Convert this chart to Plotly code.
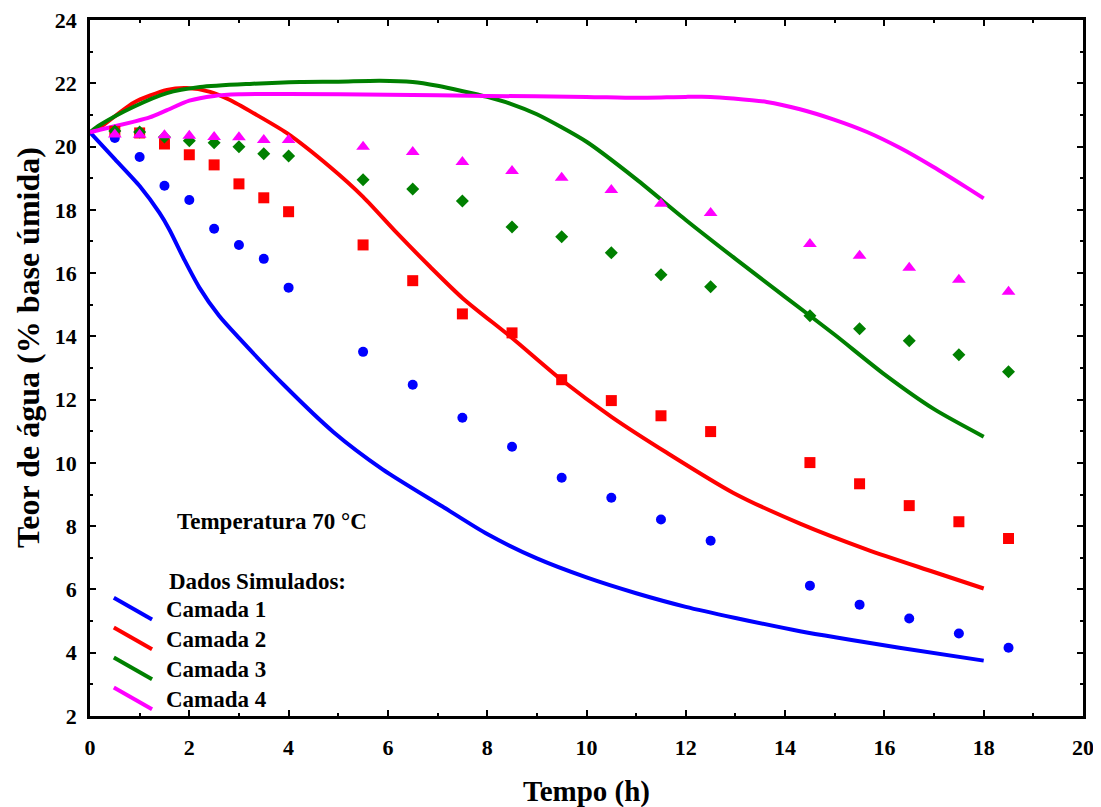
import plotly.graph_objects as go

# ---------------- data ----------------
t_exp = [0.5, 1, 1.5, 2, 2.5, 3, 3.5, 4, 5.5, 6.5, 7.5, 8.5, 9.5, 10.5, 11.5, 12.5, 14.5, 15.5, 16.5, 17.5, 18.5]
camada1_exp = [20.27, 19.67, 18.76, 18.31, 17.40, 16.89, 16.45, 15.54, 13.51, 12.47, 11.43, 10.51, 9.53, 8.90, 8.21, 7.54, 6.12, 5.52, 5.08, 4.61, 4.16]
camada2_exp = [20.48, 20.43, 20.08, 19.74, 19.42, 18.82, 18.38, 17.94, 16.89, 15.76, 14.71, 14.11, 12.63, 11.97, 11.49, 10.99, 10.01, 9.34, 8.65, 8.14, 7.61]
camada3_exp = [20.49, 20.46, 20.30, 20.18, 20.12, 19.99, 19.77, 19.70, 18.95, 18.66, 18.28, 17.46, 17.15, 16.64, 15.95, 15.57, 14.65, 14.24, 13.86, 13.42, 12.88]
camada4_exp = [20.38, 20.37, 20.36, 20.34, 20.30, 20.29, 20.21, 20.21, 19.99, 19.83, 19.51, 19.23, 19.01, 18.63, 18.19, 17.90, 16.92, 16.55, 16.17, 15.79, 15.41]

t_sim1 = [0, 0.5, 1.0, 1.4, 1.6, 1.9, 2.2, 2.6, 3.0, 3.9, 4.9, 5.9, 7.1, 8.0, 9.0, 10.0, 11.0, 12.0, 13.0, 14.3, 16.3, 18.0]
camada1_sim = [20.45, 19.6, 18.75, 17.9, 17.37, 16.42, 15.55, 14.65, 13.95, 12.47, 10.98, 9.79, 8.62, 7.75, 6.98, 6.38, 5.88, 5.45, 5.1, 4.68, 4.16, 3.75]

t_sim2 = [0, 0.2, 0.87, 1.55, 1.95, 2.42, 2.82, 3.3, 3.96, 4.83, 5.5, 6.18, 6.85, 7.51, 8.5, 9.5, 10.51, 11.62, 12.95, 14.3, 15.65, 16.98, 18.0]
camada2_sim = [20.45, 20.6, 21.38, 21.79, 21.85, 21.73, 21.47, 21.05, 20.43, 19.36, 18.41, 17.27, 16.2, 15.2, 13.95, 12.62, 11.45, 10.32, 9.06, 8.08, 7.26, 6.56, 6.03]

t_sim3 = [0, 0.2, 0.87, 1.55, 2.22, 3.22, 4.23, 5.0, 5.84, 6.5, 7.0, 7.51, 8.0, 8.46, 9.0, 10.0, 11.0, 12.0, 13.0, 14.0, 15.0, 16.0, 17.0, 18.0]
camada3_sim = [20.45, 20.68, 21.25, 21.69, 21.88, 21.98, 22.04, 22.05, 22.08, 22.04, 21.92, 21.75, 21.57, 21.36, 21.02, 20.15, 18.97, 17.68, 16.45, 15.25, 14.05, 12.8, 11.7, 10.83]

t_sim4 = [0, 0.2, 0.87, 1.2, 1.55, 2.0, 2.5, 3.0, 4.0, 6.0, 8.0, 10.0, 11.0, 12.0, 12.5, 12.95, 13.63, 14.3, 14.97, 15.65, 16.31, 16.98, 17.66, 18.0]
camada4_sim = [20.45, 20.53, 20.78, 20.92, 21.15, 21.45, 21.6, 21.65, 21.66, 21.64, 21.6, 21.57, 21.54, 21.57, 21.57, 21.52, 21.41, 21.18, 20.86, 20.46, 19.96, 19.36, 18.7, 18.36]

legend_labels = ["Camada 1", "Camada 2", "Camada 3", "Camada 4"]
colors = ["#0000FF", "#FF0000", "#008000", "#FF00FF"]

FONT = "Liberation Serif, Times New Roman, serif"

fig = go.Figure()

sims = [(t_sim1, camada1_sim), (t_sim2, camada2_sim), (t_sim3, camada3_sim), (t_sim4, camada4_sim)]
for (tx, ty), c in zip(sims, colors):
    fig.add_trace(go.Scatter(x=tx, y=ty, mode="lines",
                             line=dict(color=c, width=4, shape="spline", smoothing=0.7),
                             showlegend=False, hoverinfo="skip"))

exps = [camada1_exp, camada2_exp, camada3_exp, camada4_exp]
symbols = ["circle", "square", "diamond", "triangle-up"]
sizes = [10, 11, 10, 12]
for ys, c, s, sz in zip(exps, colors, symbols, sizes):
    fig.add_trace(go.Scatter(x=t_exp, y=ys, mode="markers",
                             marker=dict(color=c, symbol=s, size=sz, line=dict(width=0)),
                             showlegend=False))

# custom legend (diagonal line samples + labels)
leg_y = [5.36, 4.42, 3.47, 2.52]
for yy, c, lab in zip(leg_y, colors, legend_labels):
    fig.add_shape(type="line", xref="x", yref="y",
                  x0=0.48, y0=yy + 0.38, x1=1.25, y1=yy - 0.31,
                  line=dict(color=c, width=4))
    fig.add_annotation(x=1.49, y=yy, xref="x", yref="y", text=lab, showarrow=False,
                       xanchor="left", yanchor="middle",
                       font=dict(family=FONT, size=23, color="black", weight="bold"))

fig.add_annotation(x=1.55, y=6.26, xref="x", yref="y", text="Dados Simulados:", showarrow=False,
                   xanchor="left", yanchor="middle",
                   font=dict(family=FONT, size=23, color="black", weight="bold"))
fig.add_annotation(x=3.67, y=8.14, xref="x", yref="y", text="Temperatura 70 °C", showarrow=False,
                   xanchor="center", yanchor="middle",
                   font=dict(family=FONT, size=23, color="black", weight="bold"))

# y-axis title as rotated annotation
fig.add_annotation(x=-0.0625, y=0.53, xref="paper", yref="paper", text="Teor de água (% base úmida)",
                   showarrow=False, textangle=-90, xanchor="center", yanchor="middle",
                   font=dict(family=FONT, size=32, color="black", weight="bold"))

axis_common = dict(showgrid=False, zeroline=False, showline=True, linecolor="black", linewidth=2.5,
                   mirror="ticks", ticks="inside", ticklen=6, tickwidth=2, tickcolor="black",
                   automargin=False, ticklabeloverflow="allow",
                   tickfont=dict(family=FONT, size=22, color="black", weight="bold"),
                   minor=dict(ticks="inside", ticklen=3, tickwidth=1.5, tickcolor="black", dtick=1))

fig.update_xaxes(range=[0, 20], dtick=2, tick0=0,
                 title=dict(text="Tempo (h)", font=dict(family=FONT, size=29, color="black", weight="bold"), standoff=22),
                 ticklabelstandoff=10, **axis_common)
fig.update_yaxes(range=[2, 24], dtick=2, tick0=0,
                 ticklabelstandoff=6, **axis_common)

# the page body adds an 8px offset; margins compensate so the plot area lands where the reference has it
fig.update_layout(width=1101, height=807, margin=dict(l=82, r=26, t=12, b=99),
                  plot_bgcolor="white", paper_bgcolor="white", showlegend=False)

fig.write_html("out.html")
